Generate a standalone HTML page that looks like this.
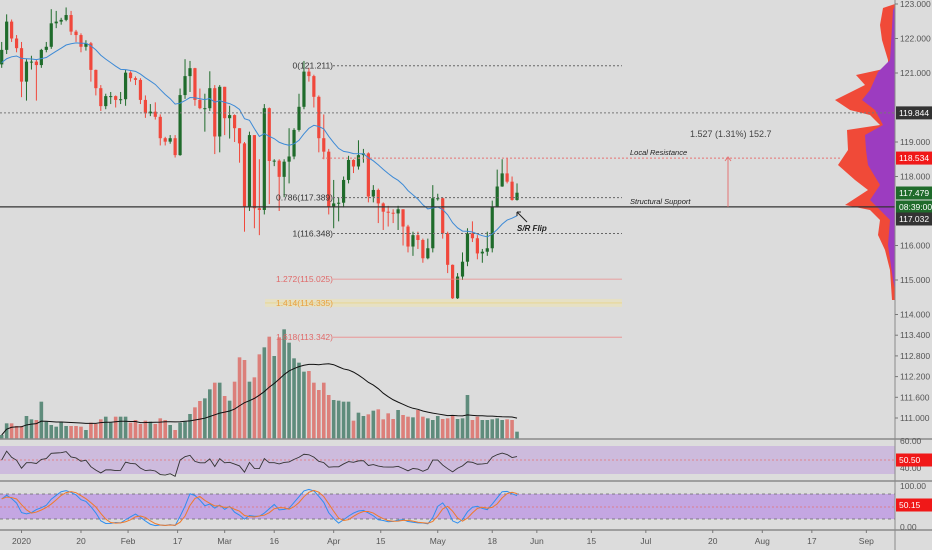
<!DOCTYPE html>
<html><head><meta charset="utf-8">
<style>
html,body{margin:0;padding:0;background:#dcdcdc;}
svg{display:block;font-family:"Liberation Sans",sans-serif;}
</style></head>
<body>
<svg id="chart" width="932" height="550" viewBox="0 0 932 550" xmlns="http://www.w3.org/2000/svg">
<rect x="0" y="0" width="932" height="550" fill="#dcdcdc"/>
<g id="bg"></g>
<g id="profile">
  <polygon fill="#f04a38" points="895,4 883,8 880,25 882,40 888,60 888,68 856,75 865,85 835,100 850,110 870,115 880,125 847,130 848,150 838,165 855,180 868,190 845,205 870,210 880,220 878,235 885,250 890,270 892,300 895,300"/>
  <polygon fill="#9c3cc0" points="895,6 893,10 890,60 878,72 870,90 862,100 875,110 883,125 865,135 866,150 868,165 880,185 870,200 880,210 890,220 888,245 893,280 895,290"/>
</g>
<g id="vol"></g>
<g id="price"></g>
<g id="anno"></g>
<g id="ind"></g>
<g id="axes"></g>
</svg>
<script>
// ---- data ----
const closes=[121.67,122.49,122.00,121.72,120.75,121.33,121.33,121.23,121.67,121.76,122.44,122.49,122.54,122.68,122.20,122.10,121.76,121.86,121.09,120.56,120.04,120.33,120.33,120.22,120.24,121.01,120.85,120.80,120.22,119.83,119.88,119.73,119.11,119.01,119.11,118.62,120.36,120.91,121.14,120.22,119.98,119.98,120.56,119.16,120.60,119.69,119.78,119.40,118.96,117.13,119.20,117.08,117.03,119.98,118.45,118.46,117.99,118.43,118.58,119.35,120.02,121.04,120.91,120.31,119.11,118.72,117.13,117.22,117.24,117.90,118.48,118.29,118.62,118.67,117.42,117.61,117.22,116.98,116.95,116.93,117.05,116.55,115.97,116.30,116.16,115.63,115.92,117.37,117.37,116.35,115.44,114.47,115.10,115.53,116.35,116.21,115.77,115.82,115.92,117.13,117.71,118.09,117.85,117.32,117.53];
const highs=[121.9,122.7,122.55,122.1,121.9,121.4,121.5,121.4,121.7,121.9,122.85,122.8,122.6,122.9,122.8,122.25,122.15,121.95,121.9,121.1,120.65,120.4,120.45,120.35,120.45,121.1,121.05,120.9,120.85,120.35,120.1,120.15,119.8,119.15,119.2,119.2,120.55,121.4,121.35,121.15,120.55,120.4,121.05,120.65,120.65,120.6,120.05,119.8,119.4,119.0,119.3,119.2,118.5,120.1,120.0,118.5,118.5,118.5,119.4,119.4,120.4,121.35,121.15,120.95,120.35,119.8,118.8,117.9,117.4,118.0,118.6,118.5,119.05,118.8,118.7,117.75,117.65,117.25,117.15,117.05,117.15,117.05,116.6,116.4,116.4,116.2,116.2,117.75,117.5,117.4,116.4,115.45,115.2,115.8,116.5,116.7,116.3,115.9,116.4,117.3,118.2,118.5,118.53,118.0,117.8];
const lows=[121.15,121.55,121.9,121.6,120.3,120.2,121.1,120.2,121.15,121.6,121.7,122.3,122.4,122.5,122.1,121.9,121.6,121.65,120.75,120.35,119.9,119.95,120.1,120.0,120.1,120.05,120.75,120.65,120.1,119.7,119.75,119.65,118.9,118.9,118.95,118.55,118.6,120.25,120.45,120.05,119.95,119.3,119.9,118.65,118.7,119.2,119.1,119.0,118.4,116.4,117.0,116.5,116.3,116.9,117.2,118.3,117.0,117.4,117.8,118.5,119.3,119.95,120.75,120.0,118.7,118.5,116.9,116.5,116.7,117.1,117.8,118.1,118.2,118.4,117.25,117.25,116.65,116.45,116.55,116.65,116.45,116.0,115.8,115.7,115.9,115.5,115.6,115.8,117.3,116.2,115.2,114.35,114.35,115.0,115.4,116.1,115.6,115.5,115.7,115.8,117.1,117.7,117.8,117.3,117.3];
const firstOpen=121.25;
const volumes=[12,47,47,39,39,69,59,57,112,52,42,37,52,39,39,39,37,27,49,45,59,67,49,67,67,67,49,57,45,55,52,45,62,57,42,27,49,52,75,95,114,122,149,169,169,129,115,172,245,237,172,185,254,275,307,249,305,329,289,242,229,202,204,169,147,169,132,117,115,112,112,55,79,69,74,85,89,59,77,60,87,72,67,65,87,67,62,57,69,60,62,69,60,62,132,57,67,57,57,59,62,57,59,57,22];
const fibLevels=[0,0.786,1,1.272,1.414,1.618];
const fibPrices=[121.211,117.389,116.348,115.025,114.335,113.342];
const priceTicks=[123,122,121,119,118,116,115,114,113.4,112.8,112.2,111.6,111];
const dateTicks=["2020","20","Feb","17","Mar","16","Apr","15","May","18","Jun","15","Jul","20","Aug","17","Sep"];
const dateTickIdx=[4,16,25.5,35.5,45,55,67,76.5,88,99,108,119,130,143.5,153.5,163.5,174.5];
const localResistance=118.534, structuralSupport=117.12, level119=119.844;

// ---- scales ----
const xOf=i=>1.7+i*4.955;
const yP=p=>4+(123-p)*34.5;
const yV=v=>439-v/3;
const yR=r=>460-(r-50)*0.7;
const yS=s=>528-s*0.42;
const NS="http://www.w3.org/2000/svg";
function mk(tag,attrs,parent){const e=document.createElementNS(NS,tag);for(const k in attrs)e.setAttribute(k,attrs[k]);parent.appendChild(e);return e;}
const G=id=>document.getElementById(id);
const opens=closes.map((c,i)=>i===0?firstOpen:closes[i-1]);

// ---- background panes ----
const bg=G('bg');
let r=mk('rect',{x:0,y:446,width:895,height:28,fill:'#cdbbdd'},bg);


r=mk('rect',{x:0,y:494,width:895,height:25,fill:'#c4a6e2'},bg);



// ---- volume ----
const vol=G('vol');
volumes.forEach((v,i)=>{
  const up=closes[i]>=opens[i];
  const b=mk('rect',{x:xOf(i)-1.8,y:yV(v),width:3.6,height:439-yV(v),fill:up?'#5f8c7c':'#dc7f7a'},vol);
  
  
});
let ma=[];
for(let i=0;i<volumes.length;i++){const s=volumes.slice(Math.max(0,i-19),i+1);ma.push(s.reduce((a,b)=>a+b,0)/s.length);}
let l=mk('polyline',{points:ma.map((v,i)=>xOf(i)+','+yV(v)).join(' '),fill:'none',stroke:'#111',"stroke-width":1},vol);



// ---- annotations behind price ----
const an=G('anno');
function hline(y,x1,x2,col,dash,w,name){const e=mk('line',{x1:x1,x2:x2,y1:y,y2:y,stroke:col,"stroke-width":w||1,"stroke-dasharray":dash||''},an);return e;}
mk('rect',{x:265,y:yP(114.335)-4,width:357,height:8,fill:'#e6e0c4'},an);
hline(yP(level119),0,895,'#777','2,2',1,'level-119844-line');
hline(yP(localResistance),322,840,'#e57373','2,2',1,'local-resistance-line');
const fibCols=['#666','#666','#666','#eb8a8a','#e8d48a','#eb8a8a'];
const fibText=['#333','#333','#333','#e06a6a','#e8a040','#e06a6a'];
fibPrices.forEach((p,i)=>{
  hline(yP(p),i===4?265:333,622,fibCols[i],i>=3?'':'2,2',i>=3?0.8:1,'fib-line');
  const t=mk('text',{x:333,y:yP(p)+3,"text-anchor":"end","font-size":8.5,fill:fibText[i]},an);
  t.textContent=fibLevels[i]+'('+p.toFixed(3)+')';
  
  
});
hline(yP(structuralSupport),0,895,'#333','',1.2,'structural-support-line');
let t;
t=mk('text',{x:630,y:yP(localResistance)-3,"font-size":7.5,"font-style":"italic",fill:'#222'},an);t.textContent='Local Resistance';


t=mk('text',{x:630,y:yP(structuralSupport)-3,"font-size":7.5,"font-style":"italic",fill:'#222'},an);t.textContent='Structural Support';


t=mk('text',{x:690,y:137,"font-size":9,fill:'#444'},an);t.textContent='1.527 (1.31%) 152.7';


l=mk('line',{x1:728,x2:728,y1:yP(localResistance),y2:yP(structuralSupport),stroke:'#e57373',"stroke-width":1},an);


mk('path',{d:'M725,161 L728,157 L731,161',stroke:'#e57373',fill:'none'},an);
t=mk('text',{x:517,y:231,"font-size":8,"font-style":"italic","font-weight":"bold",fill:'#222'},an);t.textContent='S/R Flip';


mk('path',{d:'M527,222 L517,212 M517,212 L517,216 M517,212 L521,212',stroke:'#222',fill:'none'},an);

// ---- candles ----
const pr=G('price');
closes.forEach((c,i)=>{
  const o=opens[i],up=c>=o,col=up?'#1f6b2b':'#f0483c',x=xOf(i);
  const w=mk('line',{x1:x,x2:x,y1:yP(highs[i]),y2:yP(lows[i]),stroke:col,"stroke-width":1},pr);
  
  
  const top=yP(Math.max(o,c)),bot=yP(Math.min(o,c));
  const b=mk('rect',{x:x-1.6,y:top,width:3.2,height:Math.max(1,bot-top),fill:col},pr);
  
  
});
let ema=[];const k=2/21;closes.forEach((c,i)=>ema.push(i===0?121.3:ema[i-1]+k*(c-ema[i-1])));
l=mk('polyline',{points:ema.map((v,i)=>xOf(i)+','+yP(v)).join(' '),fill:'none',stroke:'#3d8ad6',"stroke-width":1},pr);



// ---- indicators ----
const ind=G('ind');
hline(460,0,895,'#e57373','2,2',0.8,'rsi-midline');
hline(494,0,895,'#666','3,3',0.8,'stoch-upper');
hline(519,0,895,'#666','3,3',0.8,'stoch-lower');
hline(507,0,895,'#e57373','2,2',0.8,'stoch-midline');
let rsi=[],ag=0.1,al=0.1;
closes.forEach((c,i)=>{const d=i?c-closes[i-1]:0;ag=(ag*13+Math.max(d,0))/14;al=(al*13+Math.max(-d,0))/14;rsi.push(100-100/(1+ag/al));});
l=mk('polyline',{points:rsi.map((v,i)=>xOf(i)+','+yR(v)).join(' '),fill:'none',stroke:'#333',"stroke-width":0.9},ind);


let raw=closes.map((c,i)=>{const s=Math.max(0,i-13);const hh=Math.max(...highs.slice(s,i+1)),ll=Math.min(...lows.slice(s,i+1));return hh>ll?100*(c-ll)/(hh-ll):50;});
const sm=(a,n)=>a.map((v,i)=>{const s=a.slice(Math.max(0,i-n+1),i+1);return s.reduce((x,y)=>x+y,0)/s.length;});
const K=sm(raw,3),D=sm(K,3);
l=mk('polyline',{points:K.map((v,i)=>xOf(i)+','+yS(v)).join(' '),fill:'none',stroke:'#2e8ef0',"stroke-width":1},ind);


l=mk('polyline',{points:D.map((v,i)=>xOf(i)+','+yS(v)).join(' '),fill:'none',stroke:'#f07a2a',"stroke-width":1},ind);



// ---- axes ----
const ax=G('axes');
[439,481,530].forEach(y=>{const e=mk('line',{x1:0,x2:932,y1:y,y2:y,stroke:'#8a8a8a',"stroke-width":1.5},ax);});
l=mk('line',{x1:895,x2:895,y1:0,y2:550,stroke:'#8a8a8a',"stroke-width":1},ax);


priceTicks.forEach(p=>{
  const y=yP(p);mk('line',{x1:895,x2:898,y1:y,y2:y,stroke:'#777'},ax);
  const e=mk('text',{x:900,y:y+3,"font-size":8.5,fill:'#555'},ax);e.textContent=p.toFixed(3);
  
  
});
[['60.00',441],['40.00',468],['100.00',486],['0.00',527]].forEach(a=>{const e=mk('text',{x:900,y:a[1]+3,"font-size":8.5,fill:'#555'},ax);e.textContent=a[0];});
function box(txt,y,col,name){const g=mk('g',{},ax);mk('rect',{x:896,y:y-6.5,width:38,height:13,fill:col},g);const e=mk('text',{x:899,y:y+3,"font-size":8.5,fill:'#fff'},g);e.textContent=txt;}
box('119.844',yP(level119),'#333','level-price-label');
box('118.534',yP(localResistance),'#f01818','resistance-price-label');
box('117.479',193,'#1f6b2b','last-price-label');
box('08:39:00',207,'#1f6b2b','countdown-label');
box('117.032',219,'#333','support-price-label');
box('50.50',460,'#f01818','rsi-value-label');
box('50.15',505,'#f01818','stoch-value-label');
dateTicks.forEach((d,i)=>{
  const x=xOf(dateTickIdx[i]);mk('line',{x1:x,x2:x,y1:530,y2:533,stroke:'#777'},ax);
  const e=mk('text',{x:x,y:544,"font-size":8.5,fill:'#555',"text-anchor":"middle"},ax);e.textContent=d;
  
  
});
</script>
</body></html>
